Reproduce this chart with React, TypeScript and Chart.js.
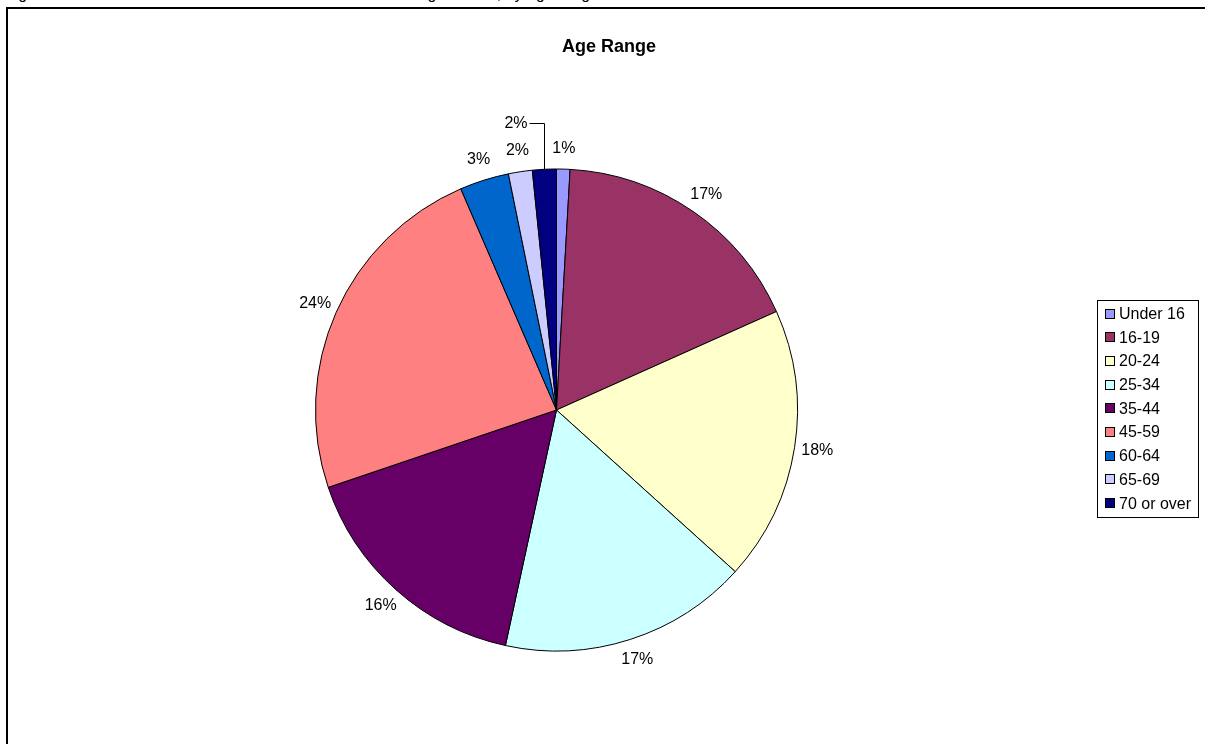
import React, { useEffect, useRef } from "react";
import { Chart, registerables } from "chart.js";

Chart.register(...registerables);

const categories = ["Under 16", "16-19", "20-24", "25-34", "35-44", "45-59", "60-64", "65-69", "70 or over"];
const shares = [0.9, 17.4, 18.4, 16.7, 16.4, 23.7, 3.3, 1.6, 1.6];
const colors = ["#9999FF", "#993366", "#FFFFCC", "#CCFFFF", "#660066", "#FF8080", "#0066CC", "#CCCCFF", "#000080"];
const chartTitle = "Age Range";
const caption = "Figure 6: Total number of learners enrolled on Adult Learning courses, by age range";

const FONT = "'Liberation Sans', Arial, Helvetica, sans-serif";

const decor = {
  id: "decor",
  beforeDraw(chart: any) {
    const ctx = chart.ctx as CanvasRenderingContext2D;
    ctx.save();
    ctx.fillStyle = "#ffffff";
    ctx.fillRect(0, 0, chart.width, chart.height);
    // caption (clipped at the top of the page)
    ctx.fillStyle = "#000";
    ctx.font = `16px ${FONT}`;
    ctx.textAlign = "left";
    ctx.textBaseline = "alphabetic";
    ctx.fillText(caption, 5, -1, 640);
    // frame
    ctx.strokeStyle = "#000";
    ctx.lineWidth = 2;
    ctx.strokeRect(7, 8, 1400, 900);
    // title
    ctx.font = `bold 18px ${FONT}`;
    ctx.textAlign = "center";
    ctx.fillText(chartTitle, 609, 52);
    ctx.restore();
  },
  afterDatasetsDraw(chart: any) {
    const ctx = chart.ctx as CanvasRenderingContext2D;
    const meta = chart.getDatasetMeta(0);
    const values: number[] = chart.data.datasets[0].data;
    const total = values.reduce((a, b) => a + b, 0);
    ctx.save();
    ctx.font = `16px ${FONT}`;
    ctx.fillStyle = "#000";
    ctx.strokeStyle = "#000";
    ctx.lineWidth = 1;
    ctx.textBaseline = "middle";
    const d = 7;
    const H = 28;
    meta.data.forEach((el: any, i: number) => {
      const { x, y, startAngle, endAngle, outerRadius } = el.getProps(
        ["x", "y", "startAngle", "endAngle", "outerRadius"],
        true
      );
      const a = (startAngle + endAngle) / 2;
      const label = Math.round((values[i] / total) * 100) + "%";
      const w = ctx.measureText(label).width;
      if (i === meta.data.length - 1) {
        const mx = Math.round(x + outerRadius * Math.cos(a)) + 0.5;
        const my = y + outerRadius * Math.sin(a);
        const ly = Math.round(my - 46) + 0.5;
        ctx.beginPath();
        ctx.moveTo(mx, my);
        ctx.lineTo(mx, ly);
        ctx.lineTo(mx - 15, ly);
        ctx.stroke();
        ctx.textAlign = "right";
        ctx.fillText(label, mx - 17, ly);
      } else {
        const cx = x + Math.cos(a) * (outerRadius + d + w / 2);
        const cy = y + Math.sin(a) * (outerRadius + d + H / 2);
        ctx.textAlign = "center";
        ctx.fillText(label, cx, cy);
      }
    });
    // legend
    const lx = 1097.5, ly0 = 300.5, lw = 101, lh = 217;
    ctx.strokeRect(lx, ly0, lw, lh);
    ctx.textAlign = "left";
    const labels: string[] = chart.data.labels;
    const bg: string[] = chart.data.datasets[0].backgroundColor;
    labels.forEach((lab, i) => {
      const cy = 313.5 + i * 23.7;
      ctx.fillStyle = bg[i];
      ctx.fillRect(1105, Math.round(cy - 5), 10, 10);
      ctx.strokeStyle = "#000";
      ctx.strokeRect(1105.5, Math.round(cy - 5) + 0.5, 9, 9);
      ctx.fillStyle = "#000";
      ctx.fillText(lab, 1119, cy + 1);
    });
    ctx.restore();
  },
};

export default function App() {
  const ref = useRef<HTMLCanvasElement | null>(null);
  useEffect(() => {
    document.body.style.overflow = "hidden";
    const canvas = ref.current;
    if (!canvas) return;
    const chart = new Chart(canvas, {
      type: "pie",
      data: {
        labels: categories,
        datasets: [
          {
            data: shares,
            backgroundColor: colors,
            borderColor: "#000000",
            borderWidth: 1,
            hoverBorderWidth: 1,
            hoverOffset: 0,
            radius: 241,
          } as any,
        ],
      },
      options: {
        responsive: false,
        animation: false,
        events: [],
        layout: { padding: { left: 315, right: 407, top: 168, bottom: 92 } },
        plugins: {
          legend: { display: false },
          title: { display: false },
          tooltip: { enabled: false },
        },
      },
      plugins: [decor],
    });
    return () => chart.destroy();
  }, []);
  return (
    <canvas
      ref={ref}
      width={1205}
      height={744}
      style={{ position: "absolute", left: 0, top: 0, width: 1205, height: 744, display: "block" }}
    />
  );
}
